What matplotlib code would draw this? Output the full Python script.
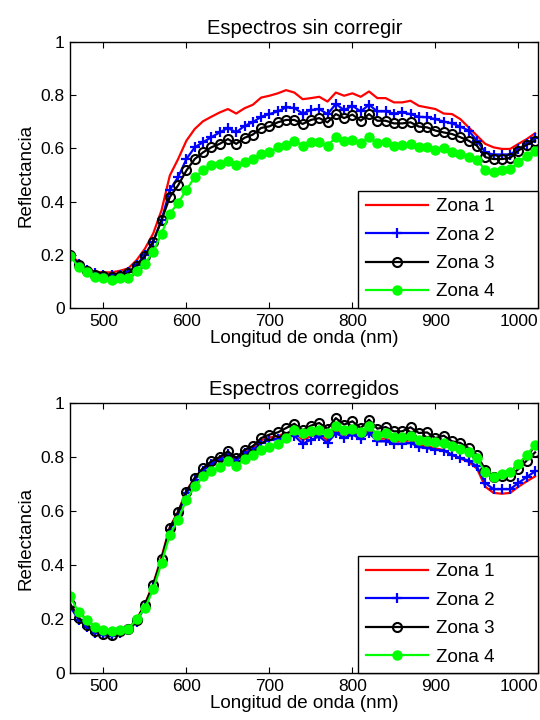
import numpy as np
import matplotlib
matplotlib.use("Agg")
import matplotlib.pyplot as plt

plt.rcParams['font.family'] = ['Liberation Sans', 'DejaVu Sans']

# Wavelengths (nm)
wavelength = np.arange(460, 1021, 10)

zonas = ["Zona 1", "Zona 2", "Zona 3", "Zona 4"]

# Uncorrected spectra
raw_z1 = [0.199, 0.174, 0.149, 0.136, 0.134, 0.134, 0.140, 0.149, 0.180, 0.223,
          0.280, 0.367, 0.498, 0.560, 0.629, 0.673, 0.702, 0.719, 0.735, 0.748,
          0.731, 0.751, 0.764, 0.791, 0.798, 0.807, 0.819, 0.810, 0.785, 0.789,
          0.794, 0.776, 0.810, 0.798, 0.807, 0.794, 0.814, 0.789, 0.789, 0.773,
          0.773, 0.779, 0.760, 0.754, 0.748, 0.731, 0.729, 0.710, 0.679, 0.648,
          0.617, 0.604, 0.598, 0.598, 0.617, 0.635, 0.657]
raw_z2 = [0.199, 0.165, 0.143, 0.130, 0.125, 0.124, 0.125, 0.134, 0.162, 0.200,
          0.250, 0.330, 0.444, 0.492, 0.560, 0.604, 0.623, 0.642, 0.660, 0.677,
          0.660, 0.685, 0.698, 0.719, 0.729, 0.739, 0.754, 0.752, 0.731, 0.744,
          0.748, 0.729, 0.767, 0.744, 0.760, 0.739, 0.764, 0.739, 0.739, 0.731,
          0.735, 0.729, 0.719, 0.717, 0.710, 0.701, 0.694, 0.682, 0.667, 0.629,
          0.585, 0.577, 0.577, 0.577, 0.598, 0.617, 0.640]
raw_z3 = [0.200, 0.161, 0.140, 0.125, 0.120, 0.118, 0.120, 0.130, 0.157, 0.195,
          0.250, 0.330, 0.417, 0.461, 0.517, 0.560, 0.585, 0.604, 0.617, 0.635,
          0.617, 0.640, 0.652, 0.677, 0.683, 0.698, 0.707, 0.707, 0.692, 0.707,
          0.714, 0.698, 0.729, 0.714, 0.727, 0.704, 0.729, 0.704, 0.704, 0.694,
          0.694, 0.698, 0.682, 0.679, 0.667, 0.660, 0.654, 0.642, 0.629, 0.610,
          0.567, 0.560, 0.560, 0.564, 0.592, 0.614, 0.629]
raw_z4 = [0.195, 0.155, 0.134, 0.115, 0.112, 0.105, 0.112, 0.112, 0.140, 0.167,
          0.211, 0.280, 0.355, 0.395, 0.444, 0.492, 0.517, 0.536, 0.542, 0.552,
          0.536, 0.548, 0.560, 0.579, 0.585, 0.604, 0.613, 0.629, 0.610, 0.623,
          0.625, 0.610, 0.642, 0.627, 0.632, 0.619, 0.642, 0.619, 0.623, 0.610,
          0.612, 0.617, 0.604, 0.604, 0.594, 0.600, 0.588, 0.579, 0.569, 0.557,
          0.519, 0.510, 0.519, 0.523, 0.548, 0.573, 0.592]

# Corrected spectra
cor_z1 = [0.250, 0.205, 0.178, 0.155, 0.146, 0.142, 0.152, 0.163, 0.198, 0.255,
          0.330, 0.430, 0.540, 0.598, 0.675, 0.722, 0.757, 0.780, 0.796, 0.816,
          0.792, 0.822, 0.835, 0.862, 0.872, 0.878, 0.888, 0.893, 0.862, 0.877,
          0.886, 0.862, 0.899, 0.880, 0.893, 0.877, 0.899, 0.868, 0.868, 0.858,
          0.858, 0.862, 0.845, 0.840, 0.832, 0.826, 0.808, 0.794, 0.782, 0.757,
          0.690, 0.667, 0.664, 0.667, 0.690, 0.710, 0.728]
cor_z2 = [0.245, 0.198, 0.172, 0.150, 0.140, 0.136, 0.148, 0.158, 0.190, 0.245,
          0.320, 0.415, 0.530, 0.588, 0.665, 0.715, 0.750, 0.775, 0.790, 0.810,
          0.786, 0.815, 0.826, 0.852, 0.862, 0.866, 0.874, 0.879, 0.849, 0.864,
          0.876, 0.852, 0.889, 0.870, 0.883, 0.867, 0.889, 0.858, 0.858, 0.849,
          0.849, 0.852, 0.837, 0.833, 0.827, 0.824, 0.808, 0.796, 0.787, 0.765,
          0.704, 0.681, 0.681, 0.681, 0.704, 0.726, 0.747]
cor_z3 = [0.256, 0.204, 0.179, 0.154, 0.145, 0.142, 0.154, 0.163, 0.197, 0.253,
          0.327, 0.422, 0.537, 0.595, 0.672, 0.722, 0.759, 0.784, 0.800, 0.821,
          0.796, 0.827, 0.840, 0.870, 0.883, 0.891, 0.907, 0.923, 0.899, 0.916,
          0.926, 0.904, 0.944, 0.920, 0.932, 0.907, 0.938, 0.905, 0.911, 0.895,
          0.895, 0.910, 0.889, 0.891, 0.870, 0.879, 0.858, 0.852, 0.833, 0.808,
          0.753, 0.726, 0.728, 0.731, 0.755, 0.787, 0.817]
cor_z4 = [0.284, 0.225, 0.195, 0.170, 0.160, 0.155, 0.160, 0.163, 0.200, 0.240,
          0.310, 0.407, 0.512, 0.568, 0.642, 0.691, 0.728, 0.747, 0.763, 0.784,
          0.765, 0.792, 0.808, 0.827, 0.837, 0.849, 0.872, 0.899, 0.889, 0.895,
          0.899, 0.889, 0.916, 0.901, 0.904, 0.891, 0.914, 0.883, 0.889, 0.873,
          0.873, 0.876, 0.864, 0.858, 0.854, 0.852, 0.839, 0.830, 0.817, 0.796,
          0.743, 0.726, 0.738, 0.743, 0.775, 0.808, 0.845]

titles = ["Espectros sin corregir", "Espectros corregidos"]
x_ticks = [500, 600, 700, 800, 900, 1000]
y_ticks = [0, 0.2, 0.4, 0.6, 0.8, 1]
y_tick_labels = ["0", "0.2", "0.4", "0.6", "0.8", "1"]

styles = [
    dict(color="#ff0000", marker=None),
    dict(color="#0000ff", marker="+", markersize=7, markeredgewidth=1.6),
    dict(color="#000000", marker="o", markersize=6.5, markerfacecolor="none",
         markeredgewidth=1.5),
    dict(color="#00ff00", marker="o", markersize=6.5, markerfacecolor="#00ff00",
         markeredgecolor="#00ff00"),
]

fig = plt.figure(figsize=(5.4, 7.2), dpi=100)
ax_top = fig.add_axes([0.13, 1 - 308 / 720, 0.867, 266 / 720])
ax_bot = fig.add_axes([0.13, 1 - 673 / 720, 0.867, 270 / 720])

for ax, title, series in [
    (ax_top, titles[0], [raw_z1, raw_z2, raw_z3, raw_z4]),
    (ax_bot, titles[1], [cor_z1, cor_z2, cor_z3, cor_z4]),
]:
    for name, vals, st in zip(zonas, series, styles):
        ax.plot(wavelength, vals, linewidth=1.6, label=name, **st)
    ax.set_xlim(460, 1024)
    ax.set_ylim(0, 1)
    ax.set_xticks(x_ticks)
    ax.set_yticks(y_ticks)
    ax.set_yticklabels(y_tick_labels)
    ax.tick_params(direction="in", top=True, right=True, length=4,
                   width=0.8, labelsize=12.5, pad=4)
    for sp in ax.spines.values():
        sp.set_linewidth(1.0)
    ax.set_title(title, fontsize=14.5, pad=6)
    ax.set_xlabel("Longitud de onda (nm)", fontsize=13.5, labelpad=1)
    ax.set_ylabel("Reflectancia", fontsize=13.5, labelpad=4)
    leg = ax.legend(loc="lower right", bbox_to_anchor=(0.615, 0, 0.385, 1),
                    mode="expand", borderaxespad=0,
                    fontsize=13.5, frameon=True, fancybox=False, framealpha=1,
                    edgecolor="black", handlelength=3.3, handletextpad=0.45,
                    labelspacing=0.6, borderpad=0.4)
    leg.get_frame().set_linewidth(1.0)

fig.savefig("out.png", dpi=100)
